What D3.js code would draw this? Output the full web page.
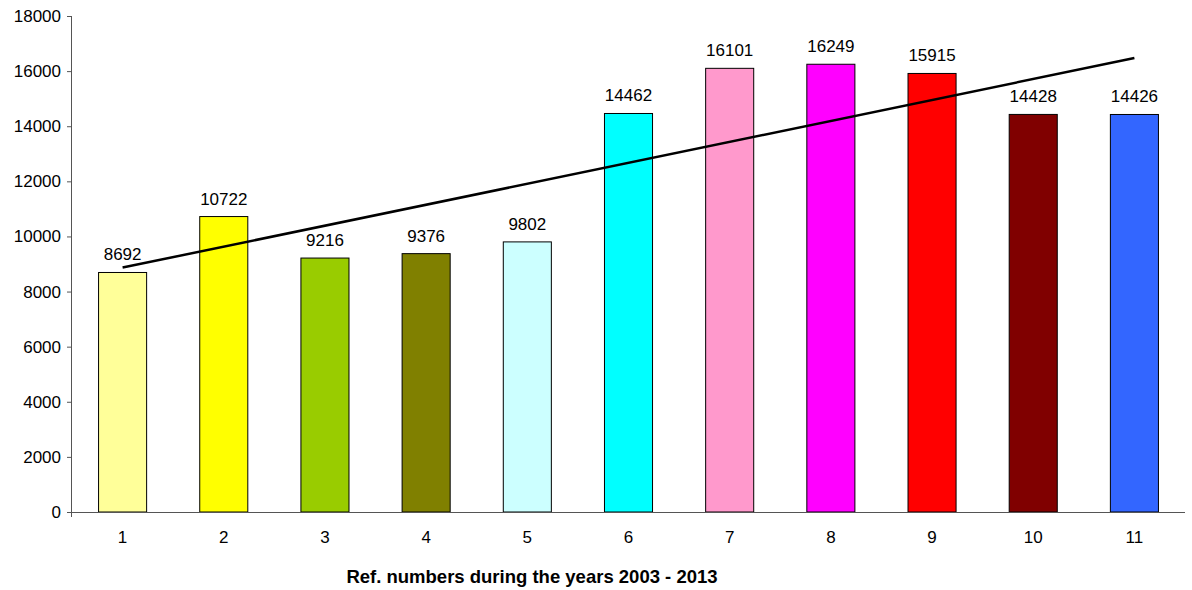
<!DOCTYPE html>
<html>
<head>
<meta charset="utf-8">
<script src="https://cdn.jsdelivr.net/npm/d3@7"></script>
<style>
  html, body { margin: 0; padding: 0; background: #fff; }
  svg { display: block; font-family: "Liberation Sans", Arial, sans-serif; }
</style>
</head>
<body>
<svg id="chart" width="1192" height="590"></svg>
<script>
// Reference numbers per year, 2003 - 2013
const categories = ["1", "2", "3", "4", "5", "6", "7", "8", "9", "10", "11"];
const values = [8692, 10722, 9216, 9376, 9802, 14462, 16101, 16249, 15915, 14428, 14426];
const barColors = ["#FFFF99", "#FFFF00", "#99CC00", "#808000", "#CCFFFF", "#00FFFF",
                   "#FF99CC", "#FF00FF", "#FF0000", "#800000", "#3366FF"];
const yTicks = [0, 2000, 4000, 6000, 8000, 10000, 12000, 14000, 16000, 18000];
const xTitle = "Ref. numbers during the years 2003 - 2013";

(function () {
  const svg = d3.select("#chart");
  const plotLeft = 72, plotRight = 1185, plotTop = 16, plotBottom = 512;
  const labelFont = 17;

  const x = d3.scaleBand().domain(categories).range([plotLeft, plotRight])
    .paddingInner(0.525).paddingOuter(0.2625);
  const y = d3.scaleLinear().domain([0, 18000]).range([plotBottom, plotTop]);

  // bars
  svg.append("g").selectAll("rect")
    .data(values)
    .join("rect")
    .attr("x", (d, i) => x(categories[i]))
    .attr("y", d => y(d))
    .attr("width", x.bandwidth())
    .attr("height", d => y(0) - y(d))
    .attr("fill", (d, i) => barColors[i])
    .attr("stroke", "#000")
    .attr("stroke-width", 1);

  // value labels
  svg.append("g").selectAll("text")
    .data(values)
    .join("text")
    .attr("x", (d, i) => x(categories[i]) + x.bandwidth() / 2)
    .attr("y", d => y(d) - 12)
    .attr("text-anchor", "middle")
    .attr("font-size", labelFont)
    .attr("fill", "#000")
    .text(d => d);

  // linear trend line (least squares over category index)
  const n = values.length;
  const xs = values.map((d, i) => i + 1);
  const mx = d3.mean(xs), my = d3.mean(values);
  const slope = d3.sum(xs, (xi, i) => (xi - mx) * (values[i] - my)) / d3.sum(xs, xi => (xi - mx) ** 2);
  const icpt = my - slope * mx;
  const cx = i => x(categories[i]) + x.bandwidth() / 2;
  svg.append("line")
    .attr("x1", cx(0)).attr("y1", y(icpt + slope * 1))
    .attr("x2", cx(n - 1)).attr("y2", y(icpt + slope * n))
    .attr("stroke", "#000").attr("stroke-width", 2.5);

  // y axis
  const yAxis = svg.append("g")
    .attr("transform", `translate(${plotLeft},0)`)
    .call(d3.axisLeft(y).tickValues(yTicks).tickSize(5).tickPadding(6).tickFormat(d3.format("d")));
  yAxis.select(".domain").attr("stroke", "#555").attr("d", `M-0.5,${plotTop}V${plotBottom}`);
  yAxis.selectAll(".tick line").attr("stroke", "#555");
  yAxis.selectAll("text").attr("font-size", labelFont).attr("fill", "#000")
    .attr("font-family", "Liberation Sans, Arial, sans-serif");

  // x axis
  const xAxis = svg.append("g")
    .attr("transform", `translate(0,${plotBottom})`)
    .call(d3.axisBottom(x).tickSize(0).tickPadding(19));
  xAxis.select(".domain").attr("stroke", "#555").attr("d", `M${plotLeft - 5},0.5H${plotRight}`);
  xAxis.selectAll("text").attr("font-size", labelFont).attr("fill", "#000")
    .attr("font-family", "Liberation Sans, Arial, sans-serif");
  xAxis.append("line").attr("x1", plotLeft - 0.5).attr("x2", plotLeft - 0.5)
    .attr("y1", 0).attr("y2", 5).attr("stroke", "#555");

  // x axis title
  svg.append("text")
    .attr("x", 532).attr("y", 583)
    .attr("text-anchor", "middle")
    .attr("font-size", 18.5)
    .attr("font-weight", "bold")
    .attr("fill", "#000")
    .text(xTitle);
})();
</script>
</body>
</html>
